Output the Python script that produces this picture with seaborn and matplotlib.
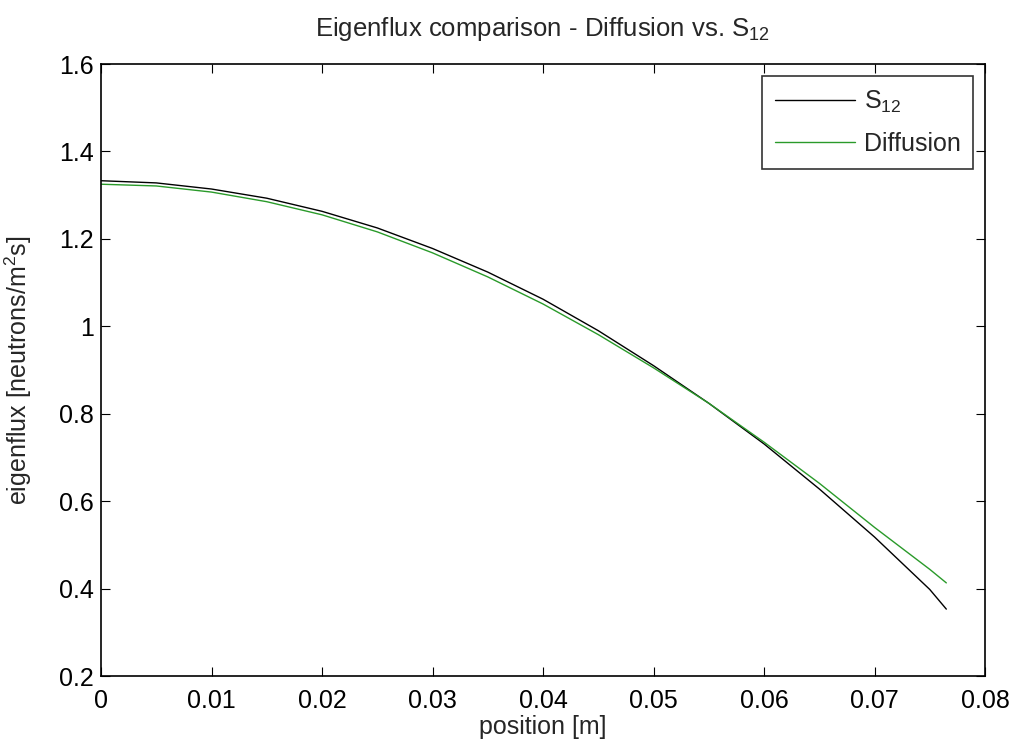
import matplotlib
matplotlib.use("Agg")
import matplotlib.pyplot as plt
import seaborn as sns
import pandas as pd

position = [0.0, 0.005, 0.01, 0.015, 0.02, 0.025, 0.03, 0.035, 0.04,
            0.045, 0.05, 0.055, 0.06, 0.065, 0.07, 0.075, 0.0765]
s12_flux = [1.333, 1.328, 1.314, 1.293, 1.263, 1.225, 1.178, 1.124, 1.062,
            0.990, 0.910, 0.824, 0.731, 0.628, 0.518, 0.398, 0.353]
diffusion_flux = [1.325, 1.321, 1.307, 1.285, 1.255, 1.216, 1.168, 1.113, 1.051,
                  0.981, 0.905, 0.824, 0.735, 0.641, 0.540, 0.444, 0.413]
series_names = ["$\\mathregular{S_{12}}$", "Diffusion"]
xticks = [0, 0.01, 0.02, 0.03, 0.04, 0.05, 0.06, 0.07, 0.08]
xtick_labels = ["0", "0.01", "0.02", "0.03", "0.04", "0.05", "0.06", "0.07", "0.08"]
yticks = [0.2, 0.4, 0.6, 0.8, 1.0, 1.2, 1.4, 1.6]
ytick_labels = ["0.2", "0.4", "0.6", "0.8", "1", "1.2", "1.4", "1.6"]

df = pd.DataFrame({
    "position": position * 2,
    "flux": s12_flux + diffusion_flux,
    "method": [series_names[0]] * len(position) + [series_names[1]] * len(position),
})

sns.set_style("ticks")
plt.rcParams["font.family"] = ["Liberation Sans", "DejaVu Sans"]
plt.rcParams["mathtext.fontset"] = "custom"
plt.rcParams["mathtext.rm"] = "Liberation Sans"
plt.rcParams["mathtext.it"] = "Liberation Sans"

FS = 18

fig = plt.figure(figsize=(10.14, 7.49), dpi=100)
ax = fig.add_axes([101 / 1014, 1 - 676 / 749, 884 / 1014, 612 / 749])

palette = {series_names[0]: "black", series_names[1]: "#2a9a2a"}
sns.lineplot(data=df, x="position", y="flux", hue="method", palette=palette,
             linewidth=1.0, ax=ax, legend=True)

ax.set_xlim(0, 0.08)
ax.set_ylim(0.2, 1.6)
ax.set_xticks(xticks)
ax.set_xticklabels(xtick_labels)
ax.set_yticks(yticks)
ax.set_yticklabels(ytick_labels)
ax.tick_params(direction="in", length=6.5, width=0.8, labelsize=FS,
               top=True, right=True, colors="black")
ax.tick_params(axis="x", pad=9)
ax.tick_params(axis="y", pad=5)
for sp in ax.spines.values():
    sp.set_visible(True)
    sp.set_linewidth(1.2)
    sp.set_color("black")

ax.set_xlabel("position [m]", fontsize=FS, labelpad=2)
ax.set_ylabel("eigenflux [neutrons/m$^\\mathregular{2}$s]", fontsize=FS, labelpad=18)
ax.set_title("Eigenflux comparison - Diffusion vs. $\\mathregular{S_{12}}$",
             fontsize=18.5, pad=20)

leg = ax.legend(loc="upper right", bbox_to_anchor=(0.9864, 0.9804), borderaxespad=0,
                fontsize=FS, frameon=True, fancybox=False, edgecolor="black",
                handlelength=3.2, handletextpad=0.35, labelspacing=0.7,
                borderpad=0.5, title=None)
leg.get_frame().set_linewidth(1.2)

fig.savefig("out.png", dpi=100)
